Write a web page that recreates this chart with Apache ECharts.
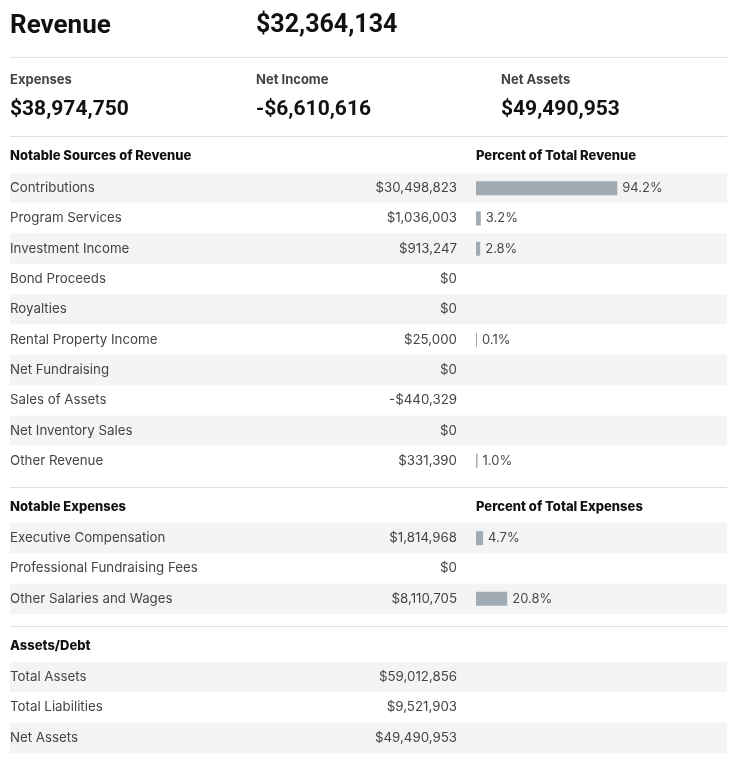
<!DOCTYPE html>
<html>
<head>
<meta charset="utf-8">
<script src="https://cdn.jsdelivr.net/npm/echarts@6/dist/echarts.min.js"></script>
<style>
  html, body { margin: 0; padding: 0; background: #fff; }
  #chart { width: 738px; height: 764px; }
</style>
</head>
<body>
<div id="chart"></div>
<script>
// 汇总数字
var revenueTotal = '$32,364,134';
var summaryLabels = ['Expenses', 'Net Income', 'Net Assets'];
var summaryValues = ['$38,974,750', '-$6,610,616', '$49,490,953'];

// 收入来源
var revenueNames = ['Contributions', 'Program Services', 'Investment Income', 'Bond Proceeds', 'Royalties',
  'Rental Property Income', 'Net Fundraising', 'Sales of Assets', 'Net Inventory Sales', 'Other Revenue'];
var revenueAmounts = ['$30,498,823', '$1,036,003', '$913,247', '$0', '$0',
  '$25,000', '$0', '-$440,329', '$0', '$331,390'];
var revenuePct = [94.2, 3.2, 2.8, null, null, 0.1, null, null, null, 1.0];

// 支出
var expenseNames = ['Executive Compensation', 'Professional Fundraising Fees', 'Other Salaries and Wages'];
var expenseAmounts = ['$1,814,968', '$0', '$8,110,705'];
var expensePct = [4.7, null, 20.8];

// 资产/负债
var assetNames = ['Total Assets', 'Total Liabilities', 'Net Assets'];
var assetAmounts = ['$59,012,856', '$9,521,903', '$49,490,953'];

var FONT = 'Inter, Roboto, sans-serif';
var HEAD_FONT = 'Roboto, sans-serif';
var LEFT = 10, RIGHT_X = 727, AMOUNT_X = 457, BAR_X = 476, PX_PER_PCT = 1.5;
var ROW_H = 30.3;
var xMin = -(BAR_X - LEFT) / PX_PER_PCT;
var xMax = (RIGHT_X - BAR_X) / PX_PER_PCT;

var sections = [
  { top: 173, names: revenueNames, amounts: revenueAmounts, pct: revenuePct },
  { top: 523, names: expenseNames, amounts: expenseAmounts, pct: expensePct },
  { top: 662, names: assetNames, amounts: assetAmounts, pct: [null, null, null] }
];

var grids = [], xAxes = [], yAxes = [], series = [];
sections.forEach(function(s, i) {
  grids.push({ left: LEFT, top: s.top, width: RIGHT_X - LEFT, height: ROW_H * s.names.length });
  xAxes.push({ gridIndex: i, type: 'value', min: xMin, max: xMax, show: false });
  yAxes.push({
    gridIndex: i, type: 'category', inverse: true, data: s.names,
    axisLine: { show: false }, axisTick: { show: false },
    axisLabel: { inside: true, margin: 0, color: '#444', fontSize: 13.3, fontFamily: FONT },
    splitArea: { show: true, areaStyle: { color: ['#f4f4f4', '#ffffff'] } }
  });
  yAxes.push({
    gridIndex: i, type: 'category', inverse: true, data: s.amounts, position: 'right',
    offset: -(RIGHT_X - AMOUNT_X),
    axisLine: { show: false }, axisTick: { show: false },
    axisLabel: { inside: true, margin: 0, color: '#444', fontSize: 13.3, fontFamily: FONT }
  });
  series.push({
    type: 'bar', xAxisIndex: i, yAxisIndex: i * 2, data: s.pct,
    barWidth: 14, barMinHeight: 1, silent: true,
    itemStyle: { color: '#a0abb3' },
    label: {
      show: true, position: 'right', distance: 5, color: '#4a4a4a', fontSize: 13, fontFamily: FONT,
      formatter: function(p) { return p.value == null ? '' : p.value.toFixed(1) + '%'; }
    }
  });
});

function txt(x, y, text, size, weight, color, font) {
  return { type: 'text', left: x, top: y, silent: true,
    style: { text: text, fontSize: size, fontWeight: weight, fill: color, fontFamily: font || FONT } };
}
function hline(y) {
  return { type: 'line', silent: true, shape: { x1: LEFT, y1: y, x2: RIGHT_X, y2: y },
    style: { stroke: '#e0e0e0', lineWidth: 1 } };
}

var graphics = [
  txt(10, 13, 'Revenue', 26, 'bold', '#111', HEAD_FONT),
  txt(256, 13, revenueTotal, 25, 'bold', '#111', HEAD_FONT),
  hline(57.5),
  hline(136.5),
  hline(487.5),
  hline(626.5),
  txt(10, 150, 'Notable Sources of Revenue', 13, 800, '#111'),
  txt(476, 150, 'Percent of Total Revenue', 13, 800, '#111'),
  txt(10, 501, 'Notable Expenses', 13, 800, '#111'),
  txt(476, 501, 'Percent of Total Expenses', 13, 800, '#111'),
  txt(10, 640, 'Assets/Debt', 13, 800, '#111')
];
var colX = [10, 256, 501];
summaryLabels.forEach(function(l, i) {
  graphics.push(txt(colX[i], 74, l, 13, 'bold', '#444'));
  graphics.push(txt(colX[i], 99, summaryValues[i], 21, 'bold', '#111', HEAD_FONT));
});

var myChart = echarts.init(document.getElementById('chart'));
myChart.setOption({
  animation: false,
  grid: grids,
  xAxis: xAxes,
  yAxis: yAxes,
  series: series,
  graphic: graphics
});
window.onresize = myChart.resize;
</script>
</body>
</html>
